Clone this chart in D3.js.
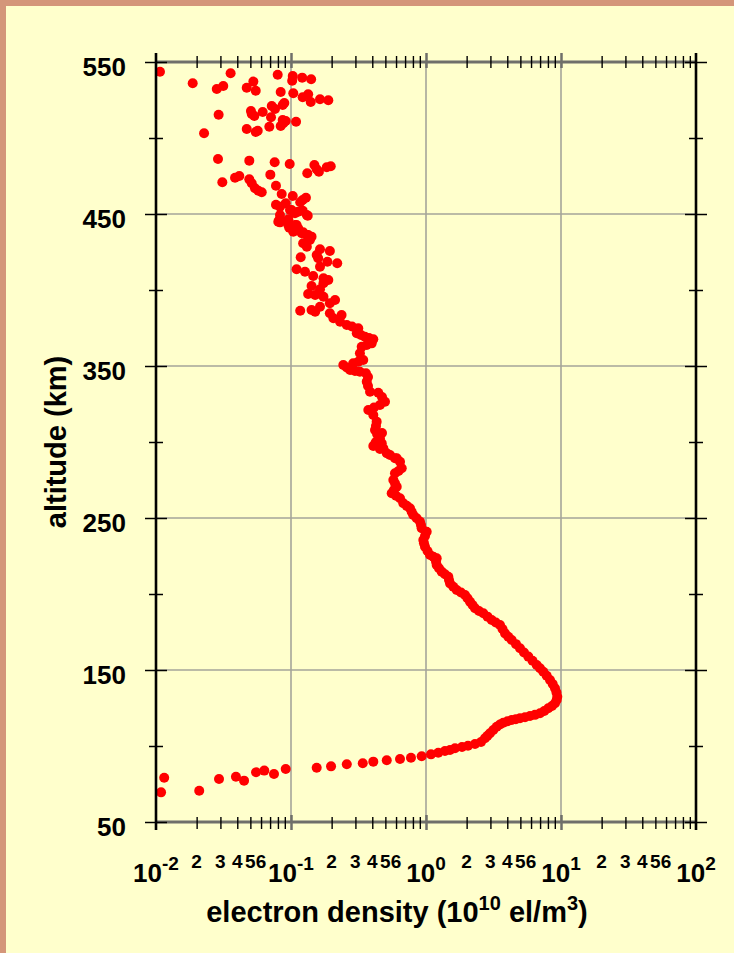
<!DOCTYPE html>
<html><head><meta charset="utf-8">
<script src="https://cdn.jsdelivr.net/npm/d3@7"></script>
<style>html,body{margin:0;padding:0;background:#ffffcc;}svg{display:block;}</style>
</head><body>
<svg id="c" width="734" height="953"></svg>
<script>
// altitude (km) and electron density (10^10 el/m^3), read point by point
const altitudeKm = [
543.6,536.0,542.6,532.2,534.2,533.1,537.1,531.1,541.6,540.8,537.7,539.7,538.6,530.3,529.4,526.8,528.8,523.7,525.5,524.8,
515.3,517.8,514.5,515.8,517.1,521.1,519.1,521.7,523.0,513.6,507.4,511.9,511.2,507.9,509.7,510.7,505.9,504.0,504.8,503.1,
486.2,485.1,484.0,482.9,482.2,477.8,479.4,476.8,480.7,481.4,470.9,473.9,475.0,472.8,470.2,466.9,465.3,464.3,475.9,468.6,
463.2,461.8,457.7,460.7,459.2,456.1,454.8,457.0,452.6,450.5,452.2,448.9,446.1,444.5,446.5,442.8,441.0,438.4,438.0,435.1,436.2,
449.3,452.6,451.5,449.3,444.9,442.8,442.8,440.6,437.3,436.2,432.9,430.7,428.5,426.8,425.7,423.0,421.5,420.9,418.6,417.6,
415.3,413.6,412.0,409.2,407.7,406.6,402.6,404.4,400.5,397.4,396.7,395.6,393.4,391.3,389.0,386.8,386.4,385.7,384.7,383.6,
381.4,379.1,377.0,376.0,374.8,371.5,370.4,369.3,368.4,367.6,364.9,363.8,362.7,358.4,353.9,352.8,351.8,350.7,349.0,347.4,
346.7,346.2,345.2,342.8,339.7,336.8,333.1,332.4,329.6,326.5,324.3,322.7,321.1,317.8,313.4,310.5,307.9,305.3,305.9,302.4,
300.0,297.4,295.4,292.6,289.3,
298.7,299.1,295.9,291.4,289.3,287.0,282.7,280.9,279.4,275.0,272.8,270.6,268.4,266.3,264.6,263.0,259.7,258.0,256.4,254.1,
252.0,249.8,247.6,245.4,243.2,241.0,238.2,235.5,233.4,231.1,228.3,225.7,224.5,223.5,221.3,219.1,216.9,214.7,213.0,211.4,
209.2,207.0,204.8,202.6,201.0,199.3,197.2,194.9,192.8,190.6,188.8,187.3,185.1,182.9,181.3,179.6,177.0,174.1,171.9,169.7,
167.0,164.3,161.5,158.8,156.1,153.3,151.1,148.9,146.2,143.4,140.8,138.0,135.2,132.4,130.3,128.1,126.3,124.8,123.0,121.5,
120.5,119.7,118.9,118.2,117.6,117.1,116.3,115.3,114.1,112.7,110.5,108.4,106.7,105.1,102.6,101.3,100.2,99.3,98.5,97.4,
96.7,95.6,94.5,93.2,92.3,91.4,90.6,89.7,88.6,88.0,86.6,85.7,84.9,81.6,83.8,82.7,77.2,79.8,78.3,70.6,79.1,69.5
];
const densityE10 = [
0.0107,0.0187,0.0357,0.0282,0.0315,0.0470,0.0526,0.0548,0.0797,0.103,0.102,0.121,0.141,0.0839,0.104,0.122,0.134,0.140,0.164,0.189,
0.0291,0.0505,0.0535,0.0512,0.0617,0.0720,0.0761,0.0868,0.0892,0.0711,0.0691,0.0868,0.0914,0.0839,0.0877,0.109,0.0470,0.0548,0.0567,0.0227,
0.0288,0.0491,0.0757,0.0978,0.149,0.161,0.155,0.132,0.184,0.197,0.0310,0.0385,0.0414,0.0491,0.0512,0.0541,0.0573,0.0607,0.0703,0.0774,
0.0853,0.103,0.117,0.129,0.122,0.0774,0.0829,0.0914,0.101,0.107,0.122,0.133,0.0819,0.0829,0.0955,0.110,0.0971,0.104,0.123,0.142,0.131,
0.0829,0.0983,0.113,0.131,0.0805,0.0955,0.107,0.113,0.120,0.134,0.138,0.123,0.131,0.164,0.194,0.155,0.118,0.159,0.186,0.220,
0.164,0.110,0.127,0.146,0.174,0.189,0.142,0.174,0.164,0.134,0.151,0.174,0.212,0.194,0.164,0.142,0.117,0.151,0.194,0.237,
0.206,0.231,0.259,0.283,0.315,0.307,0.330,0.353,0.378,0.407,0.396,0.364,0.334,0.324,0.343,0.315,0.289,0.244,0.259,0.274,
0.298,0.324,0.359,0.372,0.364,0.372,0.385,0.443,0.472,0.497,0.456,0.412,0.374,0.407,0.431,0.426,0.419,0.434,0.472,0.456,
0.426,0.407,0.456,0.512,0.589,
0.419,0.470,0.483,0.541,0.607,0.642,0.661,0.626,0.589,0.573,0.589,0.607,0.579,0.557,0.600,0.642,0.679,0.720,0.761,0.783,
0.805,0.853,0.903,0.918,0.929,1.012,0.983,0.955,0.966,0.983,1.026,1.071,1.133,1.200,1.186,1.200,1.248,1.307,1.382,1.463,
1.480,1.506,1.593,1.688,1.816,1.945,2.029,2.118,2.211,2.307,2.470,2.658,2.855,3.067,3.289,3.532,3.687,3.848,4.070,4.314,
4.642,4.969,5.320,5.725,6.151,6.607,6.990,7.394,7.836,8.288,8.680,9.027,9.261,9.389,9.290,9.027,8.577,8.050,7.520,6.990,
6.418,5.893,5.412,4.969,4.626,4.314,4.015,3.737,3.532,3.340,3.152,2.979,2.855,2.735,2.556,2.307,2.047,1.848,1.640,1.506,
1.382,1.233,1.089,0.929,0.774,0.642,0.512,0.407,0.340,0.259,0.198,0.155,0.0914,0.0748,0.0634,0.0551,0.0449,0.0391,0.0293,0.0209,0.0115,0.0109
];
const xDomain = [0.01, 100];
const yDomain = [50, 550];
const yTickValues = [550, 450, 350, 250, 150, 50];
const yMinorValues = [500, 400, 300, 200, 100];
const yGridValues = [450, 350, 250, 150];
const xGridValues = [0.1, 1, 10];
const decadeValues = [0.01, 0.1, 1, 10, 100];
const decadeExponents = ["-2", "-1", "0", "1", "2"];
const minorMultipliers = [2, 3, 4, 5, 6, 7, 8, 9];
const minorLabelDigits = [2, 3, 4, 5, 6];
const xTitleParts = ["electron density (10", "10", " el/m", "3", ")"];
const yTitle = "altitude (km)";

const FONT = "'Liberation Sans', Arial, Helvetica, sans-serif";
const L = 156, R = 696, T = 62, B = 822;
const x = d3.scaleLog().domain(xDomain).range([L, R]);
const y = d3.scaleLinear().domain(yDomain).range([B, T]);
const svg = d3.select("#c");

svg.append("rect").attr("width", 734).attr("height", 953).attr("fill", "#d4967a");
svg.append("rect").attr("x", 6).attr("y", 6).attr("width", 728).attr("height", 947).attr("fill", "#ffffcc");

// grid
svg.append("g").selectAll("line").data(xGridValues).join("line")
  .attr("x1", d => x(d)).attr("x2", d => x(d)).attr("y1", T).attr("y2", B)
  .attr("stroke", "#a5a59a").attr("stroke-width", 1.6);
svg.append("g").selectAll("line").data(yGridValues).join("line")
  .attr("y1", d => y(d)).attr("y2", d => y(d)).attr("x1", L).attr("x2", R)
  .attr("stroke", "#a5a59a").attr("stroke-width", 1.6);

// data
svg.append("g").selectAll("circle").data(altitudeKm.map((a, i) => [densityE10[i], a])).join("circle")
  .attr("cx", d => x(d[0])).attr("cy", d => y(d[1])).attr("r", 5).attr("fill", "#ff0000");

// top/bottom axis lines
[T, B].forEach(yy => svg.append("line").attr("x1", L).attr("x2", R).attr("y1", yy).attr("y2", yy)
  .attr("stroke", "#6f6f6a").attr("stroke-width", 3));

const minorX = [];
decadeValues.slice(0, 4).forEach(d => minorMultipliers.forEach(m => minorX.push(d * m)));

function styleAxis(g, color, width) {
  g.select(".domain").remove();
  g.selectAll(".tick line").attr("stroke", color).attr("stroke-width", width);
}
// x minor ticks (top and bottom)
svg.append("g").attr("transform", `translate(0,${T - 6})`)
  .call(d3.axisBottom(x).tickValues(minorX).tickSize(12).tickFormat(""))
  .call(g => styleAxis(g, "#000", 1.4));
svg.append("g").attr("transform", `translate(0,${B - 5})`)
  .call(d3.axisBottom(x).tickValues(minorX).tickSize(12).tickFormat(""))
  .call(g => styleAxis(g, "#000", 1.4));
// x major ticks
svg.append("g").attr("transform", `translate(0,${T - 9})`)
  .call(d3.axisBottom(x).tickValues(xGridValues).tickSize(15).tickFormat(""))
  .call(g => styleAxis(g, "#6f6f6a", 2.5));
svg.append("g").attr("transform", `translate(0,${B - 7})`)
  .call(d3.axisBottom(x).tickValues(xGridValues).tickSize(15).tickFormat(""))
  .call(g => styleAxis(g, "#6f6f6a", 2.5));

// left/right axis lines
[L, R].forEach(xx => svg.append("line").attr("x1", xx).attr("x2", xx).attr("y1", T - 9).attr("y2", B + 8)
  .attr("stroke", "#000").attr("stroke-width", 2.6));
// y ticks
[[L - 11, 22, yTickValues], [L - 7, 14, yMinorValues], [R - 11, 22, yTickValues], [R - 7, 14, yMinorValues]]
  .forEach(([tx, sz, vals]) => svg.append("g").attr("transform", `translate(${tx},0)`)
    .call(d3.axisRight(y).tickValues(vals).tickSize(sz).tickFormat(""))
    .call(g => styleAxis(g, "#000", 1.5)));

// y tick labels
svg.append("g").selectAll("text").data(yTickValues).join("text")
  .attr("x", 126).attr("y", d => y(d) + 14).attr("text-anchor", "end")
  .attr("font-family", FONT).attr("font-weight", "bold").attr("font-size", 26).attr("fill", "#000")
  .text(d => d3.format("d")(d));

// x decade labels
const dl = svg.append("g").selectAll("text").data(decadeValues).join("text")
  .attr("x", d => x(d)).attr("y", 882).attr("text-anchor", "middle")
  .attr("font-family", FONT).attr("font-weight", "bold").attr("fill", "#000");
dl.append("tspan").attr("font-size", 26).text("10");
dl.append("tspan").attr("font-size", 19).attr("dy", -12).text((d, i) => decadeExponents[i]);

// x minor labels
const minorLab = [];
decadeValues.slice(0, 4).forEach(d => minorLabelDigits.forEach(m => minorLab.push({v: d * m, t: String(m)})));
svg.append("g").selectAll("text").data(minorLab).join("text")
  .attr("x", d => x(d.v)).attr("y", 868).attr("text-anchor", "middle")
  .attr("font-family", FONT).attr("font-weight", "bold").attr("font-size", 19).attr("fill", "#000")
  .text(d => d.t);

// x title
const xt = svg.append("text").attr("x", 397).attr("y", 922).attr("text-anchor", "middle")
  .attr("font-family", FONT).attr("font-weight", "bold").attr("font-size", 29).attr("fill", "#000");
xt.append("tspan").text(xTitleParts[0]);
xt.append("tspan").attr("font-size", 20).attr("dy", -12).text(xTitleParts[1]);
xt.append("tspan").attr("dy", 12).text(xTitleParts[2]);
xt.append("tspan").attr("font-size", 20).attr("dy", -12).text(xTitleParts[3]);
xt.append("tspan").attr("dy", 12).text(xTitleParts[4]);

// y title
svg.append("text").attr("transform", "translate(66,442) rotate(-90)").attr("text-anchor", "middle")
  .attr("font-family", FONT).attr("font-weight", "bold").attr("font-size", 29).attr("fill", "#000")
  .text(yTitle);
</script>
</body></html>
